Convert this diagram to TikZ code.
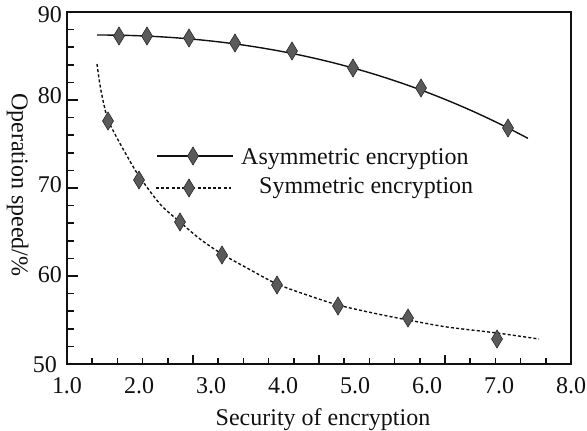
\documentclass[tikz,border=0pt]{standalone}
\usepackage{fontspec}
\setmainfont{Liberation Serif}
\definecolor{mkfill}{HTML}{5A5A5A}
\definecolor{mkdraw}{HTML}{2A2A2A}
\definecolor{ink}{HTML}{111111}
\begin{document}
\begin{tikzpicture}[x=1pt,y=-1pt,font=\fontsize{24}{28}\selectfont,
  every node/.style={inner sep=0pt,text=ink},
  frameline/.style={draw=ink,line width=1.7pt},
  tickline/.style={draw=ink,line width=1.6pt},
  solidc/.style={draw=ink,line width=1.4pt},
  dotc/.style={draw=ink,line width=1.4pt,dash pattern=on 3pt off 2.2pt},
  diam/.pic={\path[fill=mkfill,draw=mkdraw,line width=0.6pt] (0,-9) -- (5.5,0) -- (0,9) -- (-5.5,0) -- cycle;}]
\useasboundingbox (0,0) rectangle (587,431);
% frame
\draw[frameline] (67,12) rectangle (571,364);
% left ticks
\foreach \i in {1,...,19}{
  \pgfmathsetmacro\yy{364-17.6*\i}
  \pgfmathsetmacro\len{mod(\i,5)==0 ? 11 : 6.5}
  \draw[tickline] (67,\yy) -- ++(\len,0);
}
% bottom ticks
\foreach \i in {1,...,19}{
  \pgfmathsetmacro\xx{67+25.2*\i}
  \pgfmathsetmacro\len{mod(\i,5)==0 ? 9 : 6}
  \draw[tickline] (\xx,364) -- ++(0,-\len);
}
% y tick labels
\node[anchor=base east] (y90) at (62,23) {90};
\node[anchor=base east] (y80) at (62,103) {80};
\node[anchor=base east] (y70) at (62,192) {70};
\node[anchor=base east] (y60) at (62,282) {60};
\node[anchor=base east] (y50) at (57,372) {50};
% x tick labels
\foreach \v [count=\k from 0] in {1.0,2.0,3.0,4.0,5.0,6.0,7.0,8.0}{
  \node[anchor=base] (x\k) at ({67+72*\k},393) {\v};
}
% axis titles
\node[anchor=base] (xt) at (323,425) {Security of encryption};
\node[rotate=-90,anchor=base] (yt) at (12,185) {Operation speed/\%};
% upper curve (asymmetric)
\draw[solidc] plot[domain=0:4.31,samples=90,variable=\w] ({97+100*\w},{35+4.258*\w*\w+0.3036*\w*\w*\w});
% lower curve (symmetric)
\draw[dotc] plot[smooth,tension=0.5] coordinates {(97,64) (100,85) (104,105) (108,120) (117,138) (127,156) (139,176) (160,204) (180,222) (200,239) (222,254) (247,268) (277,284) (310,296) (338,305) (373,313) (408,320) (447,327) (497,333) (539,339)};
% markers
\foreach \px/\py in {119/36,147/36,189/38,235/43,292/51,353/68,421/88,508/128}{
  \pic at (\px,\py) {diam};
}
\foreach \px/\py in {108/121,139/180,180/222,222/255,277/285,338/306,408/318,497/339}{
  \pic at (\px,\py) {diam};
}
% legend
\draw[solidc] (157,156) -- (233,156);
\pic at (193,156) {diam};
\node[anchor=base west] (la) at (241,164) {Asymmetric encryption};
\draw[dotc] (156,188) -- (231,188);
\pic at (189,188) {diam};
\node[anchor=base west] (ls) at (259,193) {Symmetric encryption};
\end{tikzpicture}
\end{document}
